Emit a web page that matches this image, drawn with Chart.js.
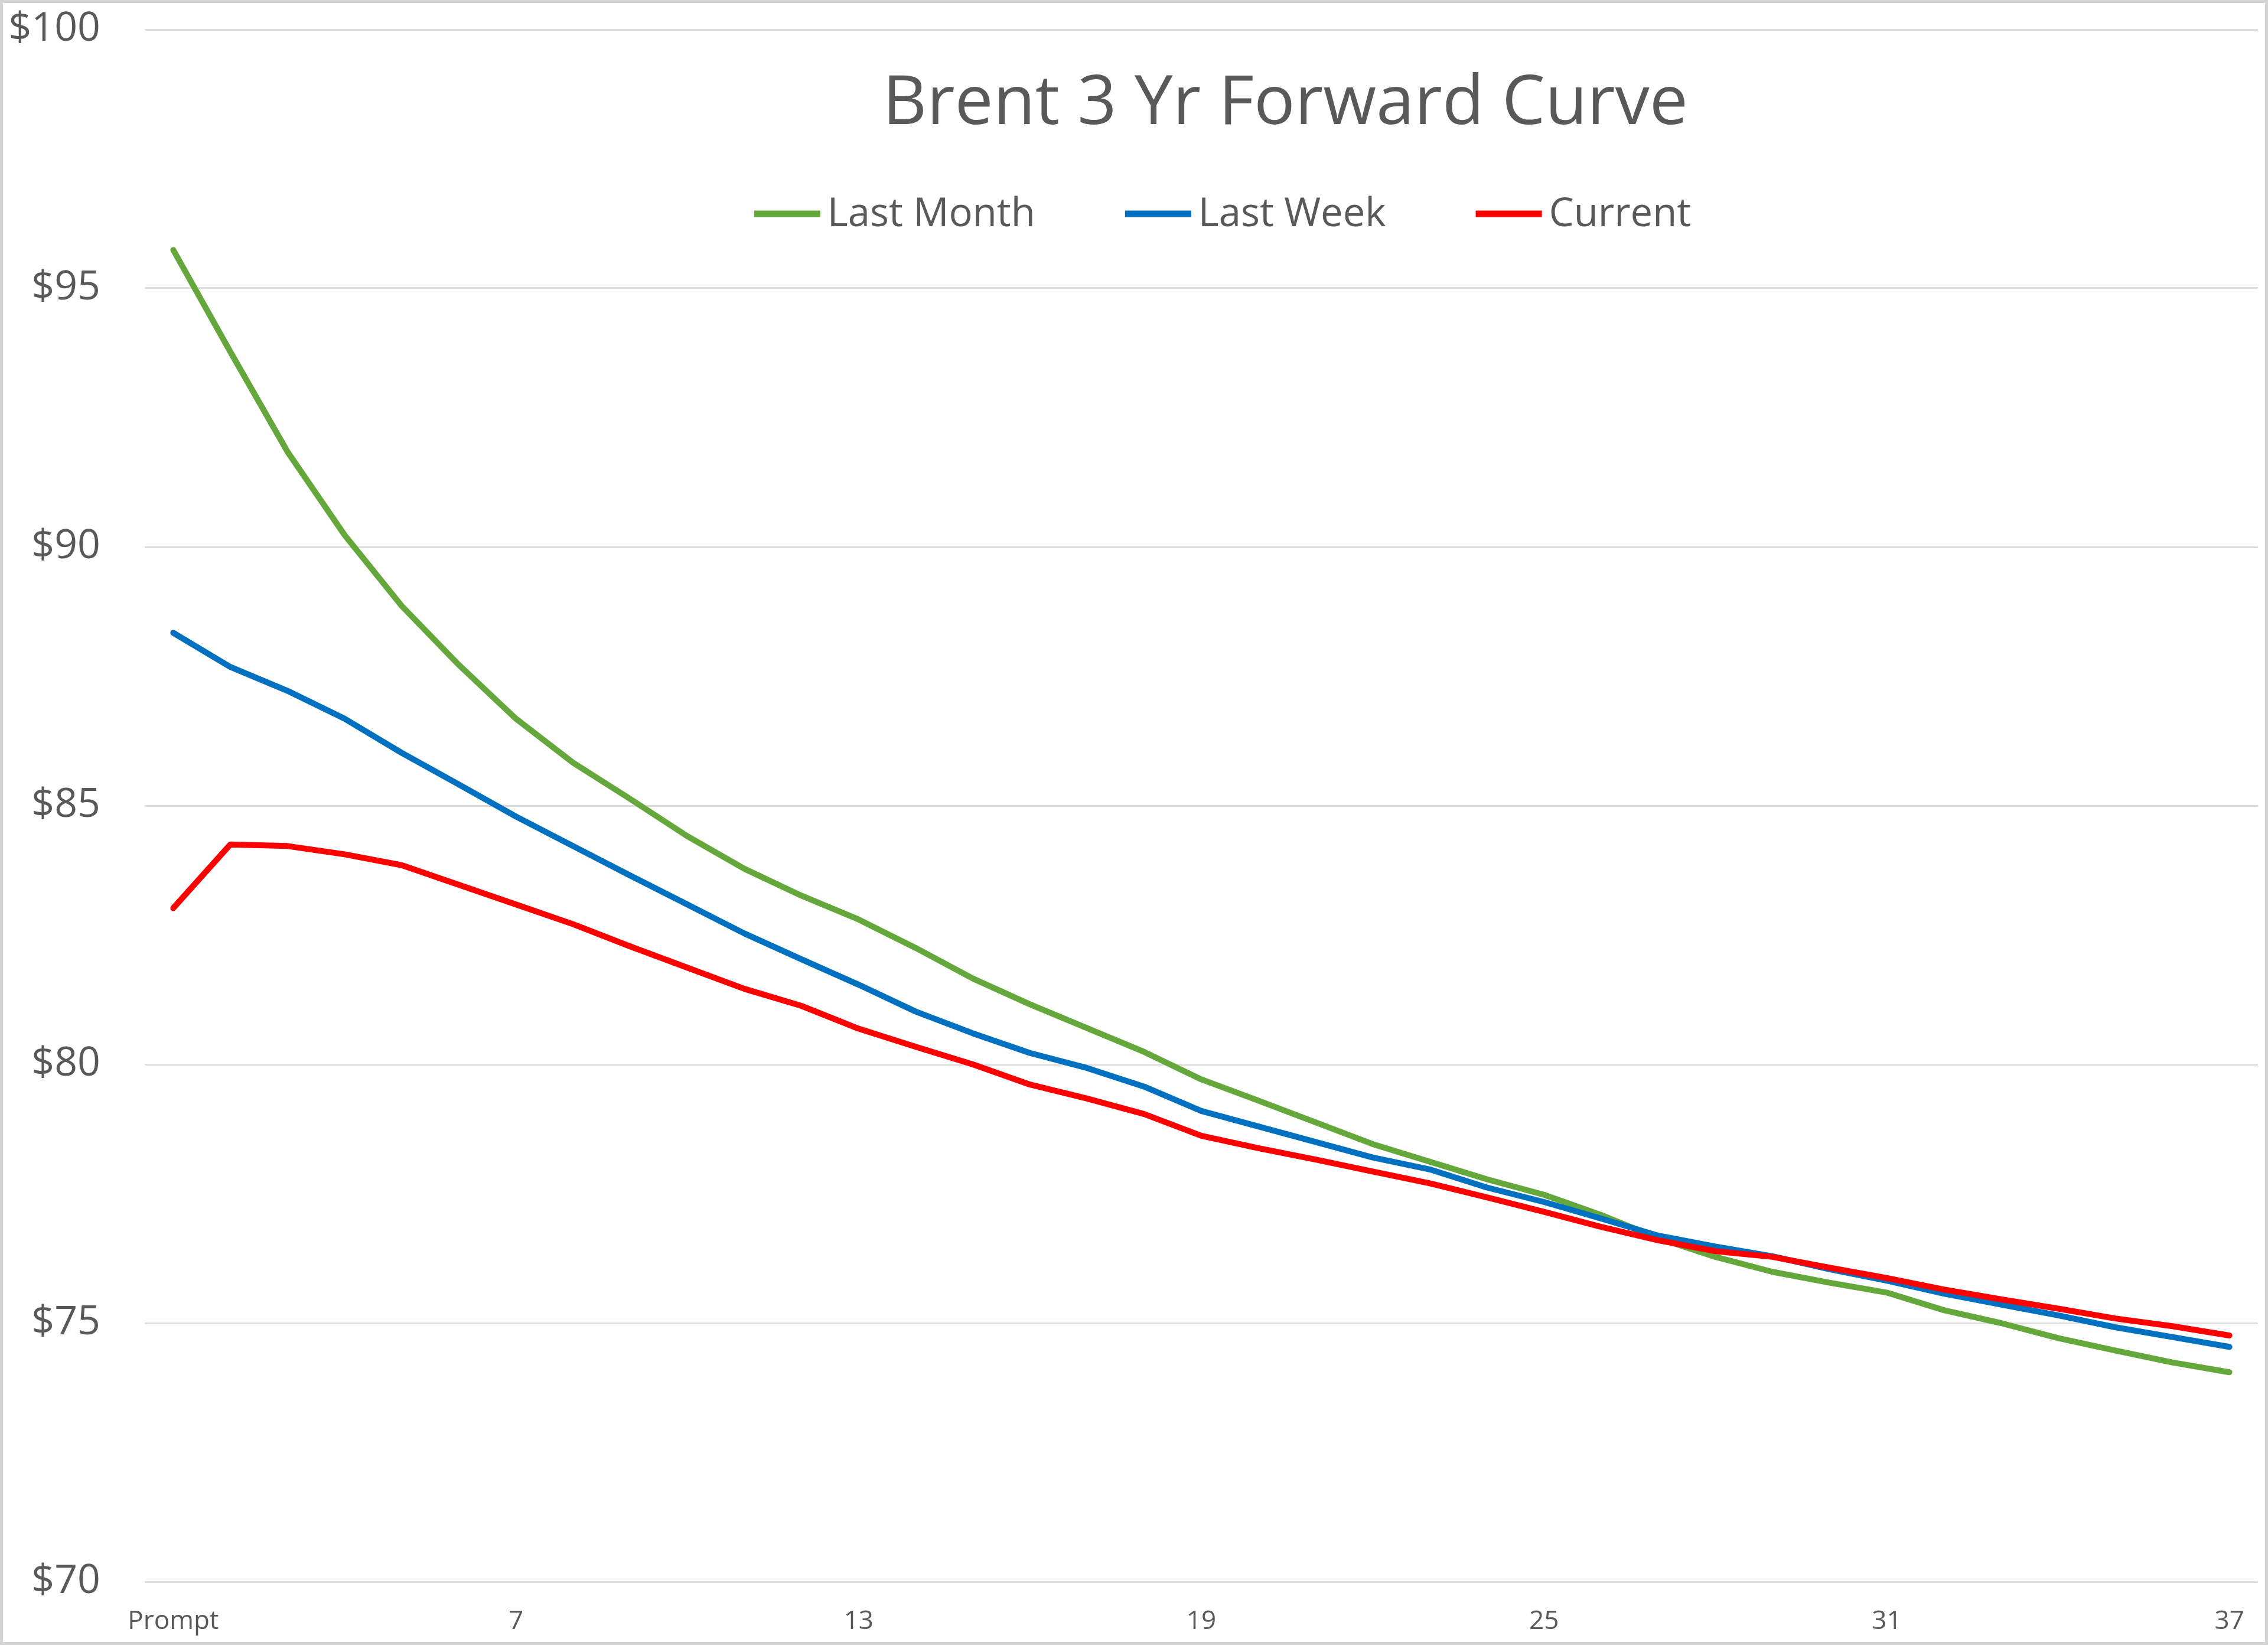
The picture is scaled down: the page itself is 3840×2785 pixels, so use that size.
<!DOCTYPE html>
<html>
<head>
<meta charset="utf-8">
<script src="https://cdn.jsdelivr.net/npm/chart.js@4.4.1/dist/chart.umd.min.js"></script>
<style>
  html, body { margin: 0; padding: 0; background: #fff; }
  #wrap { position: relative; width: 3840px; height: 2785px; }
</style>
</head>
<body>
<div id="wrap"><canvas id="chart"></canvas></div>
<script>
const title = "Brent 3 Yr Forward Curve";

const months = [
  "Prompt", "2", "3", "4", "5", "6", "7", "8", "9", "10",
  "11", "12", "13", "14", "15", "16", "17", "18", "19", "20",
  "21", "22", "23", "24", "25", "26", "27", "28", "29", "30",
  "31", "32", "33", "34", "35", "36", "37",
];

const lastMonth = [
  95.74, 93.77, 91.84, 90.23, 88.86, 87.72, 86.68, 85.83, 85.13, 84.41,
  83.78, 83.26, 82.80, 82.25, 81.66, 81.16, 80.70, 80.24, 79.71, 79.30,
  78.88, 78.46, 78.12, 77.78, 77.48, 77.09, 76.64, 76.28, 75.99, 75.78,
  75.59, 75.25, 75.00, 74.71, 74.47, 74.24, 74.05,
];

const lastWeek = [
  88.34, 87.68, 87.22, 86.68, 86.02, 85.41, 84.79, 84.22, 83.65, 83.09,
  82.53, 82.03, 81.54, 81.02, 80.60, 80.22, 79.93, 79.57, 79.10, 78.80,
  78.50, 78.20, 77.97, 77.62, 77.34, 77.02, 76.69, 76.48, 76.29, 76.04,
  75.82, 75.57, 75.36, 75.15, 74.92, 74.73, 74.54,
];

const current = [
  83.02, 84.25, 84.22, 84.06, 83.85, 83.47, 83.09, 82.71, 82.28, 81.87,
  81.46, 81.13, 80.69, 80.34, 80.00, 79.61, 79.34, 79.04, 78.62, 78.38,
  78.16, 77.93, 77.70, 77.43, 77.15, 76.86, 76.60, 76.39, 76.28, 76.07,
  75.87, 75.65, 75.46, 75.28, 75.09, 74.94, 74.76,
];

const colors = {
  green: "#64a83c",
  blue: "#0070c0",
  red: "#ff0000",
  text: "#595959",
  grid: "#dedede",
  frame: "#d4d4d4",
};
const FONT = "'Open Sans', 'DejaVu Sans', sans-serif";

// title and legend float inside the plot, like the Excel original
const overlay = {
  id: "overlay",
  beforeDraw(chart) {
    const ctx = chart.ctx;
    ctx.save();
    ctx.fillStyle = "#fff";
    ctx.fillRect(0, 0, chart.width, chart.height);
    ctx.restore();
  },
  afterDraw(chart) {
    const ctx = chart.ctx;
    ctx.save();
    ctx.strokeStyle = colors.frame;
    ctx.lineWidth = 5;
    ctx.strokeRect(2.5, 2.5, chart.width - 5, chart.height - 5);

    ctx.fillStyle = colors.text;
    ctx.font = "116px " + FONT;
    ctx.textAlign = "center";
    ctx.textBaseline = "alphabetic";
    ctx.fillText(title, 2176, 210);

    ctx.font = "67px " + FONT;
    ctx.textAlign = "left";
    const lineLen = 112, gap = 12, spacing = 152;
    const items = chart.data.datasets.map((ds) => ({
      label: ds.label,
      color: ds.borderColor,
      w: ctx.measureText(ds.label).width,
    }));
    const total = items.reduce((s, it) => s + lineLen + gap + it.w, 0) + spacing * (items.length - 1);
    let x = 2070 - total / 2;
    items.forEach((it) => {
      ctx.strokeStyle = it.color;
      ctx.lineWidth = 11;
      ctx.beginPath();
      ctx.moveTo(x, 362);
      ctx.lineTo(x + lineLen, 362);
      ctx.stroke();
      ctx.fillText(it.label, x + lineLen + gap, 383);
      x += lineLen + gap + it.w + spacing;
    });
    ctx.restore();
  },
};

new Chart(document.getElementById("chart"), {
  type: "line",
  data: {
    labels: months,
    datasets: [
      { label: "Last Month", data: lastMonth, borderColor: colors.green, order: 3 },
      { label: "Last Week", data: lastWeek, borderColor: colors.blue, order: 2 },
      { label: "Current", data: current, borderColor: colors.red, order: 1 },
    ],
  },
  options: {
    responsive: true,
    maintainAspectRatio: false,
    animation: false,
    devicePixelRatio: 1,
    layout: { padding: { top: 50, right: 17, bottom: 0, left: 0 } },
    elements: {
      point: { radius: 0 },
      line: { borderWidth: 10, tension: 0, borderCapStyle: "round", borderJoinStyle: "round" },
    },
    plugins: {
      legend: { display: false },
      title: { display: false },
      tooltip: { enabled: false },
    },
    scales: {
      x: {
        offset: true,
        // invisible ticks give the label gap without padding the plot sides
        grid: { display: true, drawOnChartArea: false, tickLength: 41, tickColor: "transparent" },
        border: { display: false },
        ticks: {
          autoSkip: false,
          maxRotation: 0,
          padding: 0,
          color: colors.text,
          font: { family: FONT, size: 44 },
          callback(value, index) {
            return index % 6 === 0 ? this.getLabelForValue(value) : "";
          },
        },
        afterFit(scale) {
          scale.height = 107;
        },
      },
      y: {
        min: 70,
        max: 100,
        ticks: {
          stepSize: 5,
          padding: 0,
          color: colors.text,
          font: { family: FONT, size: 68 },
          callback: (v) => "$" + v,
        },
        grid: { color: colors.grid, lineWidth: 3, tickLength: 75, tickColor: "transparent" },
        border: { display: false },
        afterFit(scale) {
          scale.width = 245;
        },
      },
    },
  },
  plugins: [overlay],
});
</script>
</body>
</html>
